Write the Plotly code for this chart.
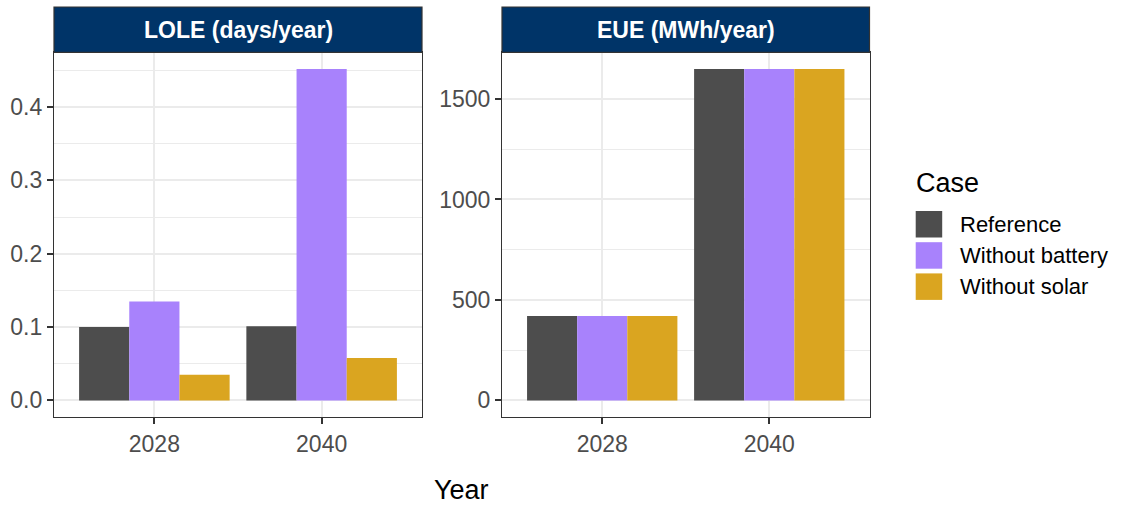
import plotly.graph_objects as go

# ---- data ----
years = ["2028", "2040"]
cases = ["Reference", "Without battery", "Without solar"]
case_colors = ["#4D4D4D", "#A882FC", "#DAA520"]

lole_reference = [0.100, 0.101]
lole_without_battery = [0.135, 0.452]
lole_without_solar = [0.035, 0.058]

eue_reference = [420, 1650]
eue_without_battery = [420, 1650]
eue_without_solar = [420, 1650]

panel_titles = ["LOLE (days/year)", "EUE (MWh/year)"]
lole_ticks = [0.0, 0.1, 0.2, 0.3, 0.4]
eue_ticks = [0, 500, 1000, 1500]

W, H = 1123, 506
FONT = "Liberation Sans, Arial, sans-serif"
NAVY = "#003468"
BORDER = "#333333"
GRID = "#EBEBEB"

lole = [lole_reference, lole_without_battery, lole_without_solar]
eue = [eue_reference, eue_without_battery, eue_without_solar]

fig = go.Figure()
for i, case in enumerate(cases):
    fig.add_trace(go.Bar(x=years, y=lole[i], name=case, marker_color=case_colors[i],
                         marker_line_width=0, xaxis="x", yaxis="y", showlegend=False))
    fig.add_trace(go.Bar(x=years, y=eue[i], name=case, marker_color=case_colors[i],
                         marker_line_width=0, xaxis="x2", yaxis="y2", showlegend=False))


def px_x(v):
    return v / W


def px_y(v):
    return 1 - v / H


# panel geometry (pixels)
panel_top, panel_bottom, strip_top = 52.3, 417.0, 7.0
panels_x = [(54.0, 422.0), (502.0, 869.5)]
ydom = [px_y(panel_bottom), px_y(panel_top)]


def yrange(series):
    m = max(max(s) for s in series)
    return [-0.05 * m, 1.05 * m]


common_x = dict(type="category", range=[-0.6, 1.6], showgrid=True, gridcolor=GRID, gridwidth=1.8,
                showline=True, mirror=True, linecolor=BORDER, linewidth=1.2,
                ticks="outside", ticklen=6, tickwidth=2, tickcolor=BORDER,
                tickfont=dict(family=FONT, size=23, color="#4D4D4D"), zeroline=False, fixedrange=True)
common_y = dict(showgrid=True, gridcolor=GRID, gridwidth=1.8,
                showline=True, mirror=True, linecolor=BORDER, linewidth=1.2,
                ticks="outside", ticklen=6, tickwidth=2, tickcolor=BORDER,
                tickfont=dict(family=FONT, size=23, color="#4D4D4D"), zeroline=False, fixedrange=True)

fig.update_layout(
    width=W, height=H,
    margin=dict(l=0, r=0, t=0, b=0),
    paper_bgcolor="white", plot_bgcolor="white",
    barmode="group", bargap=0.1, bargroupgap=0,
    font=dict(family=FONT),
    xaxis=dict(domain=[px_x(panels_x[0][0]), px_x(panels_x[0][1])], anchor="y", **common_x),
    xaxis2=dict(domain=[px_x(panels_x[1][0]), px_x(panels_x[1][1])], anchor="y2", **common_x),
    yaxis=dict(domain=ydom, anchor="x", range=yrange(lole), tickvals=lole_ticks,
               ticktext=[f"{v:.1f}" for v in lole_ticks],
               minor=dict(dtick=0.05, tick0=0, showgrid=True, gridcolor=GRID, gridwidth=1.0, ticks=""),
               **common_y),
    yaxis2=dict(domain=ydom, anchor="x2", range=yrange(eue), tickvals=eue_ticks,
                ticktext=[str(v) for v in eue_ticks],
                minor=dict(dtick=250, tick0=0, showgrid=True, gridcolor=GRID, gridwidth=1.0, ticks=""),
                **common_y),
)

shapes = []
annotations = []

# facet strips
for (x0, x1), title in zip(panels_x, panel_titles):
    shapes.append(dict(type="rect", xref="paper", yref="paper",
                       x0=px_x(x0), x1=px_x(x1), y0=px_y(panel_top), y1=px_y(strip_top),
                       fillcolor=NAVY, line=dict(color=BORDER, width=1.2), layer="above"))
    annotations.append(dict(xref="paper", yref="paper", x=px_x((x0 + x1) / 2),
                            y=px_y((panel_top + strip_top) / 2), text=f"<b>{title}</b>",
                            showarrow=False, xanchor="center", yanchor="middle",
                            font=dict(family=FONT, size=23, color="white")))

# shared x-axis title
annotations.append(dict(xref="paper", yref="paper", x=px_x((panels_x[0][0] + panels_x[1][1]) / 2),
                        y=px_y(490), text="Year", showarrow=False, xanchor="center", yanchor="middle",
                        font=dict(family=FONT, size=27, color="black")))

# legend
annotations.append(dict(xref="paper", yref="paper", x=px_x(914), y=px_y(183), text="Case",
                        showarrow=False, xanchor="left", yanchor="middle",
                        font=dict(family=FONT, size=27, color="black")))
key_top, key_size, key_step = 211.0, 26.5, 31.2
for i, (case, col) in enumerate(zip(cases, case_colors)):
    y0 = key_top + i * key_step
    shapes.append(dict(type="rect", xref="paper", yref="paper",
                       x0=px_x(915.7), x1=px_x(915.7 + key_size),
                       y0=px_y(y0 + key_size), y1=px_y(y0),
                       fillcolor=col, line=dict(width=0)))
    annotations.append(dict(xref="paper", yref="paper", x=px_x(958), y=px_y(y0 + key_size / 2),
                            text=case, showarrow=False, xanchor="left", yanchor="middle",
                            font=dict(family=FONT, size=22, color="black")))

fig.update_layout(shapes=shapes, annotations=annotations)

fig.write_html("out.html")
